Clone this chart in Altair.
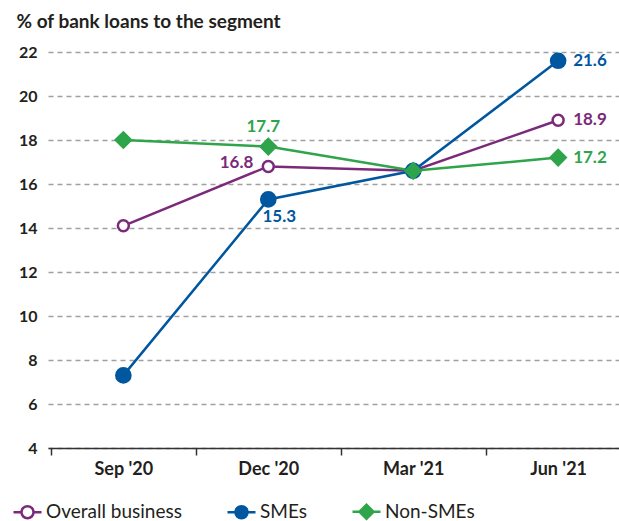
import json
import altair as alt
import pandas as pd

categories = ["Sep '20", "Dec '20", "Mar '21", "Jun '21"]
series_names = ["Overall business", "SMEs", "Non-SMEs"]
overall = [14.1, 16.8, 16.6, 18.9]
smes = [7.3, 15.3, 16.6, 21.6]
non_smes = [18.0, 17.7, 16.6, 17.2]
y_ticks = [4, 6, 8, 10, 12, 14, 16, 18, 20, 22]
x_ticks = [-0.5, 0, 0.5, 1, 1.5, 2, 2.5, 3]
y_title = "% of bank loans to the segment"

values_by_series = [overall, smes, non_smes]
rows = []
for s, vals in zip(series_names, values_by_series):
    for i, (c, v) in enumerate(zip(categories, vals)):
        rows.append({"series": s, "idx": i, "cat": c, "value": v})
df = pd.DataFrame(rows)

colors = ["#7b2a7a", "#0057a0", "#2ea44b"]
fills = ["#ffffff", "#0057a0", "#2ea44b"]
mark_shapes = ["circle", "circle", "diamond"]
mark_sizes = [120, 200, 230]
legend_paths = [
    "M-1,0H-0.43M0.43,0H1M-0.43,0A0.43,0.43 0 1,1 0.43,0A0.43,0.43 0 1,1 -0.43,0Z",
    "M-1,0H-0.43M0.43,0H1M-0.43,0A0.43,0.43 0 1,1 0.43,0A0.43,0.43 0 1,1 -0.43,0Z",
    "M-1,0H-0.5M0.5,0H1M-0.5,0L0,-0.5L0.5,0L0,0.5Z",
]

FONT = "Lato"
TXT = "#231f20"

label_expr = "datum.value % 1 === 0 ? " + json.dumps(categories) + "[datum.value] : ''"

X = alt.X(
    "idx:Q",
    scale=alt.Scale(domain=[-0.52, 3.42], nice=False, zero=False),
    axis=alt.Axis(
        values=x_ticks,
        labelExpr=label_expr,
        title=None,
        grid=False,
        domainColor="#333333",
        domainWidth=1.5,
        tickColor="#333333",
        tickWidth=1.5,
        tickSize=7,
        tickOpacity={"condition": {"test": "datum.value % 1 === 0", "value": 0}, "value": 1},
        labelFont=FONT,
        labelFontSize=18,
        labelFontWeight="bold",
        labelColor=TXT,
        labelPadding=5,
        labelOverlap=False,
        labelFlush=False,
        labelBound=False,
    ),
)
Y = alt.Y(
    "value:Q",
    scale=alt.Scale(domain=[4, 22], nice=False, zero=False),
    axis=alt.Axis(
        values=y_ticks,
        title=y_title,
        titleAngle=0,
        titleAlign="left",
        titleBaseline="alphabetic",
        titleX=-32,
        titleY=-25,
        titleFont=FONT,
        titleFontSize=19,
        titleFontWeight="bold",
        titleColor=TXT,
        domain=False,
        ticks=False,
        labelPadding=11,
        labelFont=FONT,
        labelFontSize=16,
        labelFontWeight="bold",
        labelColor=TXT,
        gridDash=[5, 4],
        gridColor="#a0a0a0",
        gridWidth=1.3,
    ),
)

base = alt.Chart(df)
layers = []
for s, c in zip(series_names, colors):
    layers.append(
        base.transform_filter(alt.datum.series == s)
        .mark_line(color=c, strokeWidth=2.5)
        .encode(x=X, y=Y)
    )
for s, c, f, sh, sz in zip(series_names, colors, fills, mark_shapes, mark_sizes):
    layers.append(
        base.transform_filter(alt.datum.series == s)
        .mark_point(shape=sh, size=sz, fill=f, stroke=c, strokeWidth=2.5, filled=True, opacity=1)
        .encode(x=X, y=Y)
    )

# value labels: (series index, category index, align, dx, dy)
label_specs = [
    (1, 1, "center", 11, 18),
    (1, 3, "left", 15, 0),
    (0, 1, "right", -15, -3),
    (0, 3, "left", 15, 0),
    (2, 1, "center", -5, -20),
    (2, 3, "left", 15, 0),
]
for si, ci, al, dx, dy in label_specs:
    layers.append(
        base.transform_filter((alt.datum.series == series_names[si]) & (alt.datum.idx == ci))
        .mark_text(align=al, baseline="middle", dx=dx, dy=dy, font=FONT, fontSize=17,
                   fontWeight="bold", color=colors[si])
        .encode(x=X, y=Y, text=alt.Text("value:Q", format=".1f"))
    )

legend = alt.Legend(
    title=None,
    orient="none",
    legendX=-36,
    legendY=444,
    direction="horizontal",
    columns=3,
    columnPadding=40,
    symbolSize=784,
    symbolStrokeWidth=2.5,
    symbolOpacity=1,
    labelFont=FONT,
    labelFontSize=19,
    labelColor=TXT,
    labelOffset=3,
)
layers.append(
    base.mark_point(opacity=0, filled=True).encode(
        x=X,
        y=Y,
        stroke=alt.Stroke("series:N", scale=alt.Scale(domain=series_names, range=colors), legend=legend),
        fill=alt.Fill("series:N", scale=alt.Scale(domain=series_names, range=fills), legend=legend),
        shape=alt.Shape("series:N", scale=alt.Scale(domain=series_names, range=legend_paths), legend=legend),
    )
)

chart = (
    alt.layer(*layers)
    .properties(
        width=571,
        height=396,
        autosize=alt.AutoSizeParams(type="none"),
        padding={"left": 48, "top": 52, "right": 0, "bottom": 73},
        background="white",
    )
    .configure_view(stroke=None)
)
chart.save("out.html", embed_options={"renderer": "svg", "actions": False})
